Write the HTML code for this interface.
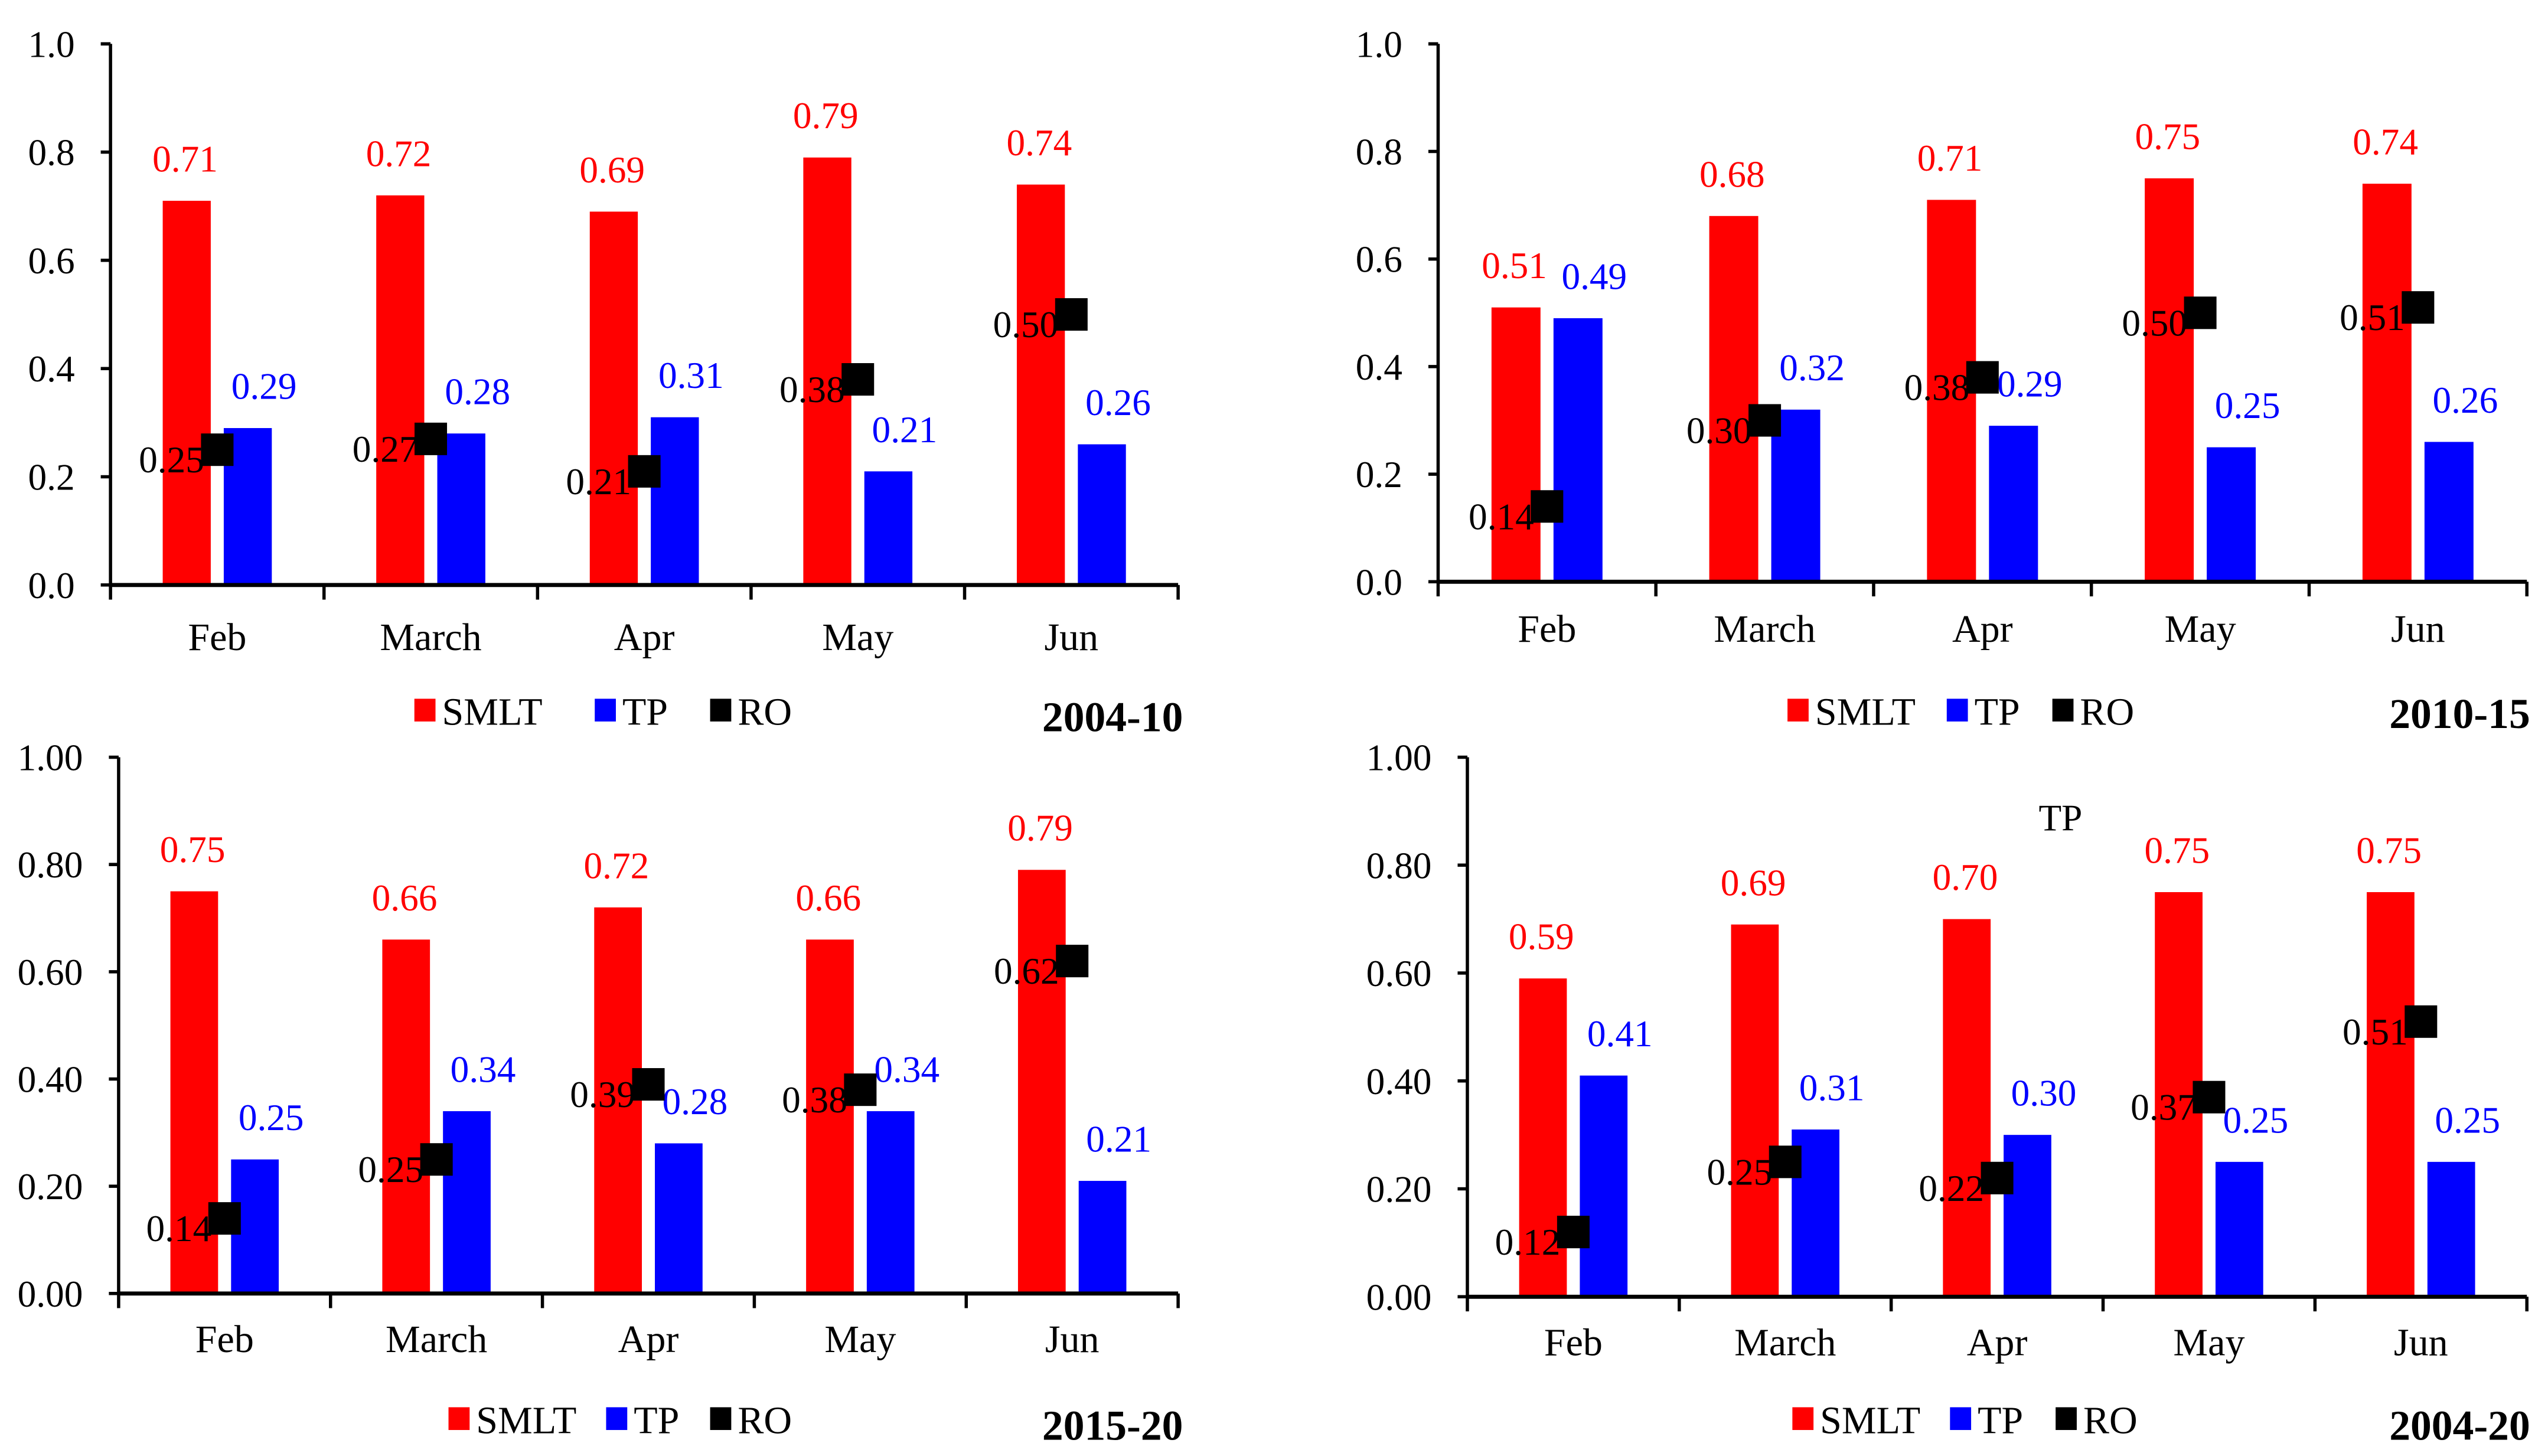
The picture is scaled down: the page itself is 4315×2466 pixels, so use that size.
<!DOCTYPE html>
<html><head><meta charset="utf-8"><style>
html,body{margin:0;padding:0;background:#fff;}
svg{display:block;font-family:"Liberation Serif",serif;}
</style></head><body>
<svg id="s" width="4315" height="2466" viewBox="0 0 1568 896" preserveAspectRatio="none" xmlns="http://www.w3.org/2000/svg"></svg>
<script>
const categories=["Feb","March","Apr","May","Jun"];
const smlt1=[0.71,0.72,0.69,0.79,0.74];
const tp1=[0.29,0.28,0.31,0.21,0.26];
const ro1=[0.25,0.27,0.21,0.38,0.50];
const smlt2=[0.51,0.68,0.71,0.75,0.74];
const tp2=[0.49,0.32,0.29,0.25,0.26];
const ro2=[0.14,0.30,0.38,0.50,0.51];
const smlt3=[0.75,0.66,0.72,0.66,0.79];
const tp3=[0.25,0.34,0.28,0.34,0.21];
const ro3=[0.14,0.25,0.39,0.38,0.62];
const smlt4=[0.59,0.69,0.70,0.75,0.75];
const tp4=[0.41,0.31,0.30,0.25,0.25];
const ro4=[0.12,0.25,0.22,0.37,0.51];
const yTicks=[0,0.2,0.4,0.6,0.8,1.0];
const titles=["2004-10","2010-15","2015-20","2004-20"];

const NS="http://www.w3.org/2000/svg";
const svg=document.getElementById('s');
function mk(tag,attrs,parent){const e=document.createElementNS(NS,tag);for(const k in attrs)e.setAttribute(k,attrs[k]);(parent||svg).appendChild(e);return e;}
function txt(x,y,s,size,fill,anchor,weight,parent){const t=mk('text',{x:x,y:y,'font-size':size,fill:fill,'text-anchor':anchor||'middle','font-weight':weight||'normal'},parent);t.textContent=s;return t;}

const panels=[
 {sm:smlt1,tp:tp1,ro:ro1,x0:68,x1:725,y0:360,y1:27,dec:1,ly:437,lx:[255,366,437],tx:728,ty:450,catY:400},
 {sm:smlt2,tp:tp2,ro:ro2,x0:885,x1:1555,y0:358,y1:27,dec:1,ly:437,lx:[1100,1198,1263],tx:1557,ty:448,catY:395},
 {sm:smlt3,tp:tp3,ro:ro3,x0:73,x1:725,y0:796,y1:466,dec:2,ly:873,lx:[276,373,437],tx:728,ty:886,catY:832},
 {sm:smlt4,tp:tp4,ro:ro4,x0:903,x1:1555,y0:798,y1:466,dec:2,ly:873,lx:[1103,1200,1265],tx:1557,ty:886,catY:834}
];
panels.forEach((p,pi)=>{
 const g=mk('g',{});
 
 
 const y=v=>p.y0-(p.y0-p.y1)*v;
 const cw=(p.x1-p.x0)/categories.length;
 const cx=i=>p.x0+cw*(i+0.5);
 const bw=cw*0.225;
 const ya=mk('line',{x1:p.x0,y1:p.y1,x2:p.x0,y2:p.y0,stroke:'#000','stroke-width':2},g);
 
 yTicks.forEach(t=>{
  mk('line',{x1:p.x0-6,y1:y(t),x2:p.x0,y2:y(t),stroke:'#000','stroke-width':2},g);
  const l=txt(p.x0-22,y(t)+8,t.toFixed(p.dec),23,'#000','end','normal',g);
  
 });
 categories.forEach((c,i)=>{
  const r=mk('rect',{x:cx(i)-bw-4,y:y(p.sm[i]),width:bw,height:y(0)-y(p.sm[i]),fill:'#ff0000'},g);
  
  const b=mk('rect',{x:cx(i)+4,y:y(p.tp[i]),width:bw,height:y(0)-y(p.tp[i]),fill:'#0000ff'},g);
  
  const rl=txt(cx(i)-bw/2-5,y(p.sm[i])-18,p.sm[i].toFixed(2),23,'#ff0000','middle','normal',g);
  
  const bl=txt(cx(i)+bw/2+14,y(p.tp[i])-18,p.tp[i].toFixed(2),23,'#0000ff','middle','normal',g);
  
 });
 const xa=mk('line',{x1:p.x0,y1:p.y0,x2:p.x1,y2:p.y0,stroke:'#000','stroke-width':2.5},g);
 
 for(let i=0;i<=categories.length;i++)mk('line',{x1:p.x0+cw*i,y1:p.y0,x2:p.x0+cw*i,y2:p.y0+9,stroke:'#000','stroke-width':2},g);
 categories.forEach((c,i)=>{
  const l=txt(cx(i),p.catY,c,24,'#000','middle','normal',g);
  
 });
 categories.forEach((c,i)=>{
  const m=mk('rect',{x:cx(i)-10,y:y(p.ro[i])-10,width:20,height:20,fill:'#000'},g);
  
  const l=txt(cx(i)-8,y(p.ro[i])+14,p.ro[i].toFixed(2),23,'#000','end','normal',g);
  
 });
 const cols=['#ff0000','#0000ff','#000'],names=['SMLT','TP','RO'];
 names.forEach((n,k)=>{
  const le=mk('g',{},g);
  
  mk('rect',{x:p.lx[k],y:p.ly-7,width:13,height:14,fill:cols[k]},le);
  txt(p.lx[k]+17,p.ly+9,n,24,'#000','start','normal',le);
 });
 const t=txt(p.tx,p.ty,titles[pi],26,'#000','end','bold',g);
 
});
const tpn=txt(1268,511,'TP',23,'#000','middle','normal');


</script>
</body></html>
